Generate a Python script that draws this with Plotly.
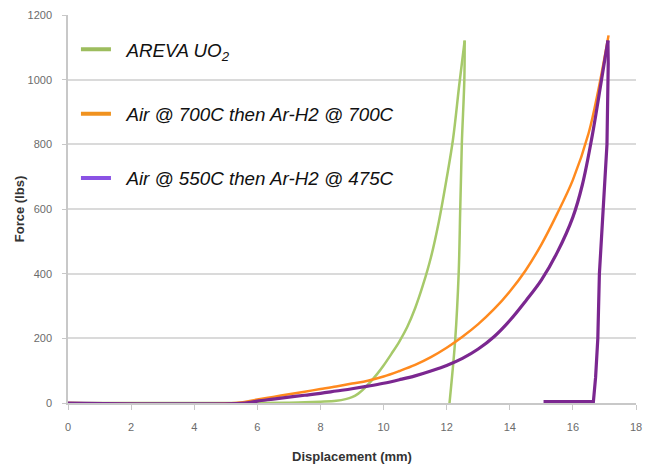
import plotly.graph_objects as go

# AREVA UO2 (loading, then unloading)
areva_load_x = [0, 6, 7, 7.5, 8, 8.5, 8.8, 9.0, 9.2, 9.4, 9.6, 9.8, 10.0, 10.25, 10.5, 10.75,
                11.0, 11.25, 11.5, 11.75, 12.0, 12.2, 12.4, 12.57]
areva_load_y = [0, 0, 1, 2, 4, 7, 12, 18, 29, 46, 67, 90, 116, 152, 190, 235,
                293, 365, 450, 560, 695, 815, 985, 1121]
areva_unload_x = [12.57, 12.56, 12.48, 12.43, 12.38, 12.27, 12.09]
areva_unload_y = [1121, 1000, 800, 600, 400, 195, 0]

# Air @ 700C then Ar-H2 @ 700C
a700_x = [0, 5.3, 6, 6.5, 7, 7.5, 8, 8.5, 9, 9.5, 10, 10.5, 11, 11.5, 12, 12.5, 13, 13.5,
          14, 14.5, 15, 15.5, 16, 16.5, 16.8, 17.13]
a700_y = [0, 0, 11, 19, 27, 35, 43, 51, 60, 69, 82, 99, 118, 142, 171, 205, 244, 290,
          345, 410, 490, 585, 690, 835, 965, 1137]

# Air @ 550C then Ar-H2 @ 475C
a550_load_x = [0, 5.6, 6, 6.5, 7, 7.5, 8, 8.5, 9, 9.5, 10, 10.5, 11, 11.5, 12, 12.5, 13, 13.5,
               14, 14.5, 15, 15.5, 16, 16.3, 16.6, 16.9, 17.11]
a550_load_y = [0, 0, 6, 12, 18, 24, 30, 37, 44, 52, 61, 72, 84, 99, 116, 138, 167, 205,
               255, 315, 380, 465, 575, 675, 820, 995, 1121]
a550_unload_x = [17.11, 17.12, 17.08, 16.97, 16.84, 16.79, 16.72, 16.65, 15.07]
a550_unload_y = [1121, 1050, 800, 600, 400, 200, 80, 4, 4]

names = ["AREVA UO<sub>2</sub>", "Air @ 700C then Ar-H2 @ 700C", "Air @ 550C then Ar-H2 @ 475C"]
line_colors = ["#A6C96A", "#FF8A1E", "#7B2790"]
legend_colors = ["#9DBD5E", "#F0921F", "#8A52E4"]

fig = go.Figure()
traces = [
    (areva_load_x, areva_load_y, line_colors[0], 2.5, "spline"),
    (areva_unload_x, areva_unload_y, line_colors[0], 2.5, "spline"),
    (a700_x, a700_y, line_colors[1], 2.5, "spline"),
    (a550_load_x, a550_load_y, line_colors[2], 3.2, "spline"),
    (a550_unload_x, a550_unload_y, line_colors[2], 3.2, "linear"),
]
for xs, ys, c, w, shp in traces:
    fig.add_trace(go.Scatter(x=xs, y=ys, mode="lines",
                             line=dict(color=c, width=w, shape=shp, smoothing=1.0),
                             showlegend=False, hoverinfo="skip"))

for i, (n, c) in enumerate(zip(names, legend_colors)):
    fig.add_trace(go.Scatter(x=[None], y=[None], mode="lines", name="\u00a0\u00a0" + n,
                             line=dict(color=c, width=4), legendgroup=f"g{i}"))

fig.update_layout(
    width=646, height=464,
    margin=dict(l=68, r=10, t=15, b=61),
    paper_bgcolor="white", plot_bgcolor="white",
    font=dict(family="Liberation Sans, Arial, sans-serif"),
    showlegend=True,
    legend=dict(x=0.014, y=0.96, xanchor="left", yanchor="top",
                bgcolor="rgba(0,0,0,0)", tracegroupgap=37,
                font=dict(size=18.8, color="#111111", family="Liberation Sans, Arial, sans-serif",
                          style="italic"),
                itemwidth=30),
)
fig.update_xaxes(range=[0, 18], tickvals=list(range(0, 19, 2)), showgrid=False, automargin=False,
                 showline=True, linecolor="#C8C8C8", linewidth=1.5,
                 ticks="outside", ticklen=5, tickcolor="#C8C8C8", ticklabelstandoff=8,
                 tickfont=dict(size=11, color="#6B6B6B"), zeroline=False,
                 title=dict(text="<b>Displacement (mm)</b>", font=dict(size=13, color="#333333"),
                            standoff=20))
fig.update_yaxes(range=[0, 1200], tickvals=list(range(0, 1201, 200)), showgrid=True, automargin=False,
                 gridcolor="#DADADA", gridwidth=1.5,
                 showline=True, linecolor="#C8C8C8", linewidth=1.5,
                 ticks="outside", ticklen=4, tickcolor="#C8C8C8", ticklabelstandoff=8,
                 tickfont=dict(size=11, color="#6B6B6B"), zeroline=False,
                 title=dict(text="<b>Force (lbs)</b>", font=dict(size=13, color="#333333"),
                            standoff=0))

fig.write_html("out.html")
